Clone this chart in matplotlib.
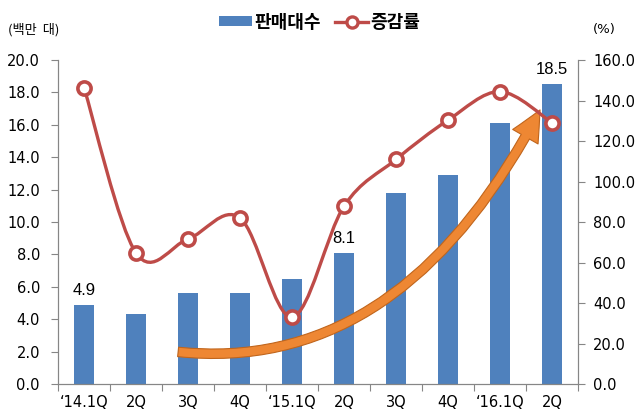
import numpy as np
import matplotlib
matplotlib.use('Agg')
from matplotlib import pyplot as plt
from matplotlib.path import Path
from matplotlib.patches import PathPatch, FancyArrowPatch, Patch
from matplotlib.lines import Line2D

plt.rcParams['font.family'] = ['Liberation Sans Narrow', 'DejaVu Sans']

# data
quarters = ['\u201814.1Q', '2Q', '3Q', '4Q', '\u201815.1Q', '2Q', '3Q', '4Q', '\u201816.1Q', '2Q']
sales = [4.9, 4.3, 5.6, 5.6, 6.5, 8.1, 11.8, 12.9, 16.1, 18.5]      # 판매대수 (백만 대)
growth = [146.4, 64.7, 71.6, 82.0, 33.0, 87.8, 110.9, 130.3, 144.4, 129.0]  # 증감률 (%)
labelled = [0, 5, 9]

bar_col = '#4F81BD'
line_col = '#BE4B48'
axis_col = '#868686'

fig = plt.figure(figsize=(6.36, 4.19), dpi=100)
ax = fig.add_axes([58/636, 35/419, 520/636, 324/419])
ax2 = ax.twinx()

x = np.arange(len(quarters))
ax.bar(x, sales, width=0.4, color=bar_col, zorder=2)
for i in labelled:
    ax.annotate('%.1f' % sales[i], (x[i], sales[i]), xytext=(0, 5), textcoords='offset points',
                ha='center', va='bottom', fontsize=12, family='Liberation Sans')

ax.set_xlim(-0.5, len(quarters) - 0.5)
ax.set_ylim(0, 20)
ax.set_yticks(np.arange(0, 20.1, 2))
ax.set_yticklabels(['%.1f' % v for v in np.arange(0, 20.1, 2)])
ax2.set_ylim(0, 160)
ax2.set_yticks(np.arange(0, 160.1, 20))
ax2.set_yticklabels(['%.1f' % v for v in np.arange(0, 160.1, 20)])

# x ticks at category borders, labels at centres
ax.set_xticks(np.arange(-0.5, len(quarters), 1))
ax.set_xticklabels([])
ax.set_xticks(x, minor=True)
ax.set_xticklabels(quarters, minor=True)
ax.tick_params(axis='x', which='major', direction='out', length=5, color=axis_col)
ax.tick_params(axis='x', which='minor', length=0, pad=8, labelsize=10.5)
ax.tick_params(axis='y', direction='out', length=5, color=axis_col, pad=8, labelsize=10.5)
ax2.tick_params(axis='y', direction='out', length=5, color=axis_col, pad=6, labelsize=10.5)

for a in (ax, ax2):
    a.spines['top'].set_visible(False)
    for s in ('left', 'right', 'bottom'):
        a.spines[s].set_color(axis_col)

# smoothed line (catmull-rom style bezier through the points, like excel's smooth line)
pts = np.column_stack([x, growth]).astype(float)
verts = [tuple(pts[0])]
codes = [Path.MOVETO]
for i in range(len(pts) - 1):
    p0 = pts[i - 1] if i > 0 else pts[i]
    p1, p2 = pts[i], pts[i + 1]
    p3 = pts[i + 2] if i + 2 < len(pts) else pts[i + 1]
    c1 = p1 + (p2 - p0) / 6.0
    c2 = p2 - (p3 - p1) / 6.0
    verts += [tuple(c1), tuple(c2), tuple(p2)]
    codes += [Path.CURVE4] * 3
ax2.add_patch(PathPatch(Path(verts, codes), facecolor='none', edgecolor=line_col, lw=2.4, zorder=4))
ax2.plot(x, growth, linestyle='none', marker='o', ms=9.5, mfc='white', mec=line_col, mew=2.6, zorder=5)

# orange curved arrow (decoration)
arrow = FancyArrowPatch(path=Path([(0.231, 0.099), (0.660, 0.028), (0.927, 0.846)],
                                  [Path.MOVETO, Path.CURVE3, Path.CURVE3]),
                        arrowstyle='simple,head_length=2.2,head_width=2.1,tail_width=0.68',
                        mutation_scale=10, transform=ax2.transAxes,
                        facecolor='#EE8733', edgecolor='#C0651C', lw=0.8, zorder=3)
ax2.add_patch(arrow)

# legend
handles = [Patch(facecolor=bar_col, edgecolor='none'),
           Line2D([], [], color=line_col, lw=2.4, marker='o', ms=8, mfc='white', mec=line_col, mew=2.4)]
fig.legend(handles, ['판매대수', '증감률'], loc='center', bbox_to_anchor=(0.503, 0.947), ncol=2,
           frameon=False, handlelength=1.8, handleheight=0.5, handletextpad=0.15, columnspacing=0.8,
           prop={'family': ['Noto Sans CJK KR', 'DejaVu Sans'], 'weight': 'bold', 'size': 13})

fig.text(8/636, 1 - 30/419, '(백만  대)', ha='left', va='center', fontsize=9.5,
         family=['Noto Sans CJK KR', 'DejaVu Sans'])
fig.text(604/636, 1 - 30/419, '(%)', ha='center', va='center', fontsize=9.5)

fig.savefig('out.png', dpi=100)
